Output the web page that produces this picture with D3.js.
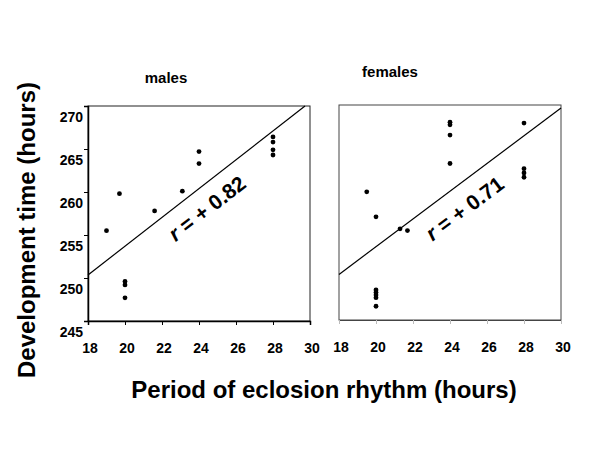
<!DOCTYPE html>
<html>
<head>
<meta charset="utf-8">
<script src="https://cdn.jsdelivr.net/npm/d3@7"></script>
<style>
  body { margin: 0; background: #fff; }
  #chart { width: 600px; height: 450px; }
  text { font-family: "Liberation Sans", Arial, sans-serif; font-weight: bold; fill: #000; }
</style>
</head>
<body>
<div id="chart"></div>
<script>

// period (h) and development time (h) of each fly
var malesX = [19.0, 19.7, 20.0, 20.0, 20.0, 21.6, 23.1, 24.0, 24.0, 28.0, 28.0, 28.0, 28.0];
var malesY = [255.5, 259.8, 249.6, 249.2, 247.7, 257.8, 260.1, 264.7, 263.3, 266.4, 265.8, 264.9, 264.3];

var femalesX = [19.5, 20.0, 20.0, 20.0, 20.0, 20.0, 20.0, 21.3, 21.7, 24.0, 24.0, 24.0, 24.0, 28.0, 28.0, 28.0, 28.0];
var femalesY = [259.9, 257.0, 248.5, 248.2, 247.9, 247.6, 246.6, 255.6, 255.4, 268.0, 267.7, 266.5, 263.2, 267.9, 262.6, 262.1, 261.6];

// fitted lines: [x start, y start, x end, y end]
var malesFit = [18, 250.35, 29.73, 270];
var femalesFit = [18, 250.3, 30, 269.65];

var panelNames = ["males", "females"];
var rLabels = ["0.82", "0.71"];

var xTicks = [18, 20, 22, 24, 26, 28, 30];
var yTicks = [245, 250, 255, 260, 265, 270];

var xTitle = "Period of eclosion rhythm (hours)";
var yTitle = "Development time (hours)";

var svg = d3.select("#chart").append("svg")
    .attr("width", 600)
    .attr("height", 450);

var panels = [
    { name: panelNames[0], xs: malesX, ys: malesY, fit: malesFit, r: rLabels[0],
      left: 88, top: 106, titleX: 166, titleY: 83, first: true, t: 0.49, off: 8 },
    { name: panelNames[1], xs: femalesX, ys: femalesY, fit: femalesFit, r: rLabels[1],
      left: 339, top: 105, titleX: 390, titleY: 77, first: false, t: 0.505, off: 10 }
];

var width = 222, height = 215;

panels.forEach(function(p) {

    var x = d3.scaleLinear().domain([18, 30]).range([0, width]);
    var y = d3.scaleLinear().domain([245, 270]).range([height, 0]);

    var g = svg.append("g")
        .attr("transform", "translate(" + p.left + "," + p.top + ")");

    // box
    g.append("rect")
        .attr("width", width)
        .attr("height", height)
        .attr("fill", "none")
        .attr("stroke", p.first ? "#222" : "#444")
        .attr("stroke-width", 1);

    // x axis
    var xAxis = g.append("g")
        .attr("transform", "translate(0," + height + ")")
        .call(d3.axisBottom(x).tickValues(xTicks).tickSize(4).tickFormat(""));
    xAxis.select(".domain").attr("stroke", p.first ? "#000" : "#444").attr("stroke-width", p.first ? 1.5 : 1);
    xAxis.selectAll(".tick line").attr("stroke", p.first ? "#000" : "#bbb");

    g.selectAll(".xlab")
        .data(xTicks)
        .enter().append("text")
        .attr("class", "xlab")
        .attr("x", function(d) { return x(d) + 2; })
        .attr("y", height + 32)
        .attr("text-anchor", "middle")
        .style("font-size", "14px")
        .text(function(d) { return d; });

    if (p.first) {
        // y axis
        var yAxis = g.append("g")
            .call(d3.axisLeft(y).tickValues(yTicks).tickSize(4).tickFormat(""));
        yAxis.select(".domain").attr("stroke", "#000").attr("stroke-width", 1.5);

        g.selectAll(".ylab")
            .data(yTicks)
            .enter().append("text")
            .attr("class", "ylab")
            .attr("x", -5)
            .attr("y", function(d) { return y(d) + 16; })
            .attr("text-anchor", "end")
            .style("font-size", "14px")
            .text(function(d) { return d; });
    }

    // fitted line
    g.append("line")
        .attr("x1", x(p.fit[0]))
        .attr("y1", y(p.fit[1]))
        .attr("x2", x(p.fit[2]))
        .attr("y2", y(p.fit[3]))
        .attr("stroke", "#000")
        .attr("stroke-width", 1.2);

    // points
    g.selectAll(".dot")
        .data(p.xs)
        .enter().append("circle")
        .attr("class", "dot")
        .attr("cx", function(d) { return x(d); })
        .attr("cy", function(d, i) { return y(p.ys[i]); })
        .attr("r", 2.4)
        .attr("fill", "#000");

    // r label along the fitted line
    var x1 = x(p.fit[0]), y1 = y(p.fit[1]), x2 = x(p.fit[2]), y2 = y(p.fit[3]);
    var angle = Math.atan2(y2 - y1, x2 - x1) * 180 / Math.PI;
    var lx = x1 + (x2 - x1) * p.t, ly = y1 + (y2 - y1) * p.t;
    var len = Math.sqrt((x2 - x1) * (x2 - x1) + (y2 - y1) * (y2 - y1));
    lx += -(y2 - y1) / len * p.off;
    ly += (x2 - x1) / len * p.off;

    var lab = g.append("text")
        .attr("transform", "translate(" + lx + "," + ly + ") rotate(" + angle + ")")
        .attr("text-anchor", "middle")
        .attr("dy", "0.95em")
        .style("font-size", "21px");
    lab.append("tspan").style("font-style", "italic").text("r");
    lab.append("tspan").text(" = + " + p.r);

    // panel title
    svg.append("text")
        .attr("x", p.titleX)
        .attr("y", p.titleY)
        .attr("text-anchor", "middle")
        .style("font-size", "15px")
        .text(p.name);
});

// axis titles
svg.append("text")
    .attr("x", 324)
    .attr("y", 398)
    .attr("text-anchor", "middle")
    .style("font-size", "24px")
    .text(xTitle);

svg.append("text")
    .attr("transform", "translate(35,230) rotate(-90)")
    .attr("text-anchor", "middle")
    .style("font-size", "24px")
    .text(yTitle);

</script>
</body>
</html>
